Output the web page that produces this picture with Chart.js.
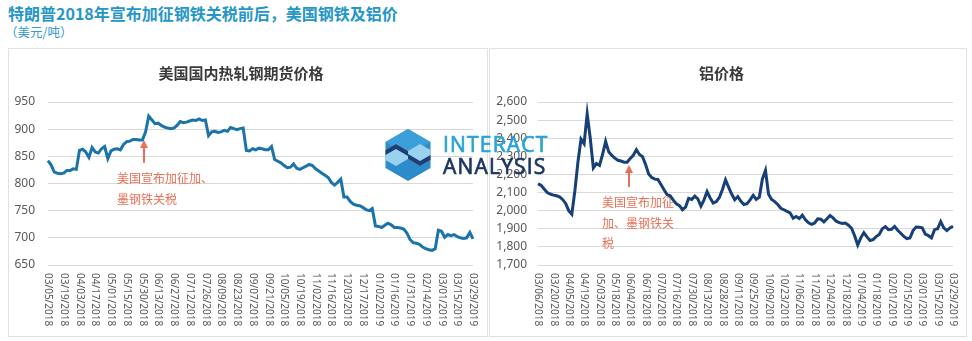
<!DOCTYPE html>
<html>
<head>
<meta charset="utf-8">
<script src="https://cdn.jsdelivr.net/npm/chart.js@4.4.1/dist/chart.umd.min.js"></script>
<style>
body{margin:0;background:#fff;width:972px;height:341px;position:relative;overflow:hidden;font-family:"Noto Sans CJK SC","Noto Sans",sans-serif}
#title{position:absolute;left:8px;top:3px;font-size:16px;font-weight:bold;color:#2596c8;line-height:20px;white-space:nowrap}
#unit{position:absolute;left:5px;top:23px;font-size:12.5px;color:#3399cc;line-height:18px}
.panel{position:absolute;top:48px;height:289px;border:1px solid #e2e2e2;box-sizing:border-box}
#p1{left:8px;width:480px}
#p2{left:489px;width:478px}
canvas{display:block}
#logo{position:absolute;left:384px;top:128px}
</style>
</head>
<body>
<div id="title">特朗普2018年宣布加征钢铁关税前后，美国钢铁及铝价</div>
<div id="unit">（美元/吨）</div>
<div class="panel" id="p1"><canvas id="steelChart" width="478" height="287"></canvas></div>
<div class="panel" id="p2"><canvas id="alumChart" width="476" height="287"></canvas></div>
<svg id="logo" width="170" height="56">
<polygon points="24,1 46.5,14 46.5,40 24,53 1.5,40 1.5,14" fill="#2c8ccb"/>
<polygon points="24,1 46.5,14 24,27 1.5,14" fill="#3d9fd9"/>
<polygon points="1.5,22 12,16 24,23 36,16 46.5,22 46.5,32 36,38 24,31 12,38 1.5,32" fill="#9ad2ee"/>
<polygon points="1.5,22 12,16 24,23 24,28 12,21 1.5,27" fill="#1d3f73"/>
<polygon points="46.5,32 36,38 24,31 24,26 36,33 46.5,27" fill="#1d3f73"/>
<text x="59" y="24" font-family="Open Sans" font-size="21" letter-spacing="1.2" fill="#2aa3d8" stroke="#2aa3d8" stroke-width="0.7">INTERACT</text>
<text x="59" y="46" font-family="Open Sans" font-size="21" letter-spacing="1.2" fill="#1c3561" stroke="#1c3561" stroke-width="0.7">ANALYSIS</text>
</svg>
<script>
const steelTicks=['03/05/2018','03/19/2018','04/03/2018','04/17/2018','05/01/2018','05/15/2018','05/30/2018','06/13/2018','06/27/2018','07/12/2018','07/26/2018','08/09/2018','08/23/2018','09/07/2018','09/21/2018','10/05/2018','10/19/2018','11/02/2018','11/16/2018','12/03/2018','12/17/2018','01/02/2019','01/16/2019','01/31/2019','02/14/2019','03/01/2019','03/15/2019','03/29/2019'];
const alumTicks=['03/06/2018','03/20/2018','04/05/2018','04/19/2018','05/03/2018','05/18/2018','06/04/2018','06/18/2018','07/02/2018','07/16/2018','07/30/2018','08/13/2018','08/28/2018','09/11/2018','09/25/2018','10/09/2018','10/23/2018','11/06/2018','11/20/2018','12/04/2018','12/18/2018','01/04/2019','01/18/2019','02/01/2019','02/15/2019','03/01/2019','03/15/2019','03/29/2019'];

// 美国国内热轧钢期货价格
const steelPrice=[
842,834,821,819,818,819,824,824,827,826,
861,863,858,848,866,858,856,864,868,846,
860,863,864,862,872,877,878,881,881,880,
880,895,924,917,910,911,907,904,902,901,
902,907,914,912,913,915,917,916,919,916,
917,888,895,896,894,895,898,896,903,901,
899,901,902,861,860,864,862,865,864,862,
862,868,844,841,838,833,829,830,836,828,
826,829,832,835,833,827,823,819,815,811,
802,797,802,808,775,775,767,762,760,759,
756,752,750,754,722,721,719,723,727,724,
719,719,718,716,709,697,691,690,688,683,
680,678,677,680,714,712,701,706,704,706,
702,700,699,700,710,698];

// 铝价格
const alumPrice=[
2148,2140,2120,2100,2092,2086,2082,2076,2062,2040,
2000,1980,2110,2270,2395,2370,2535,2400,2236,2260,
2250,2310,2383,2325,2305,2290,2278,2274,2268,2268,
2288,2306,2337,2310,2298,2255,2202,2183,2174,2172,
2145,2115,2088,2082,2058,2038,2028,2005,2020,2068,
2062,2080,2065,2025,2060,2105,2070,2042,2050,2073,
2117,2170,2130,2092,2060,2078,2052,2034,2038,2060,
2085,2062,2075,2175,2222,2090,2062,2050,2034,2013,
2005,1996,1988,1958,1968,1957,1975,1950,1933,1924,
1932,1955,1953,1938,1955,1973,1960,1942,1934,1929,
1932,1920,1903,1862,1810,1850,1878,1855,1835,1840,
1857,1868,1900,1912,1895,1897,1913,1892,1875,1858,
1846,1849,1890,1910,1908,1905,1870,1862,1850,1895,
1900,1940,1905,1890,1905,1914];

const pointsPerTick=5;

// rotated date labels, reading top to bottom
const xLabels=
{
id:'xLabels',
afterDraw(chart,args,o)
{
const ctx=chart.ctx;
const xs=chart.scales.x;
const top=chart.chartArea.bottom+8;
ctx.save();
ctx.font='10px "Noto Sans"';
ctx.fillStyle='#595959';
ctx.textAlign='left';
ctx.textBaseline='middle';
o.labels.forEach((t,k)=>
{
ctx.save();
ctx.translate(xs.getPixelForValue(k*o.step),top);
ctx.rotate(Math.PI/2);
ctx.fillText(t,0,0);
ctx.restore();
});
ctx.restore();
}
};

// red arrow + note
const note=
{
id:'note',
beforeDatasetsDraw(chart,args,o)
{
const ctx=chart.ctx;
const xs=chart.scales.x,ys=chart.scales.y;
const ax=xs.getPixelForValue(o.at);
const tip=ys.getPixelForValue(o.tip);
const base=ys.getPixelForValue(o.base);
ctx.save();
ctx.strokeStyle='#ea6f55';
ctx.fillStyle='#ea6f55';
ctx.lineWidth=2;
ctx.beginPath();ctx.moveTo(ax,base);ctx.lineTo(ax,tip+6);ctx.stroke();
ctx.beginPath();ctx.moveTo(ax,tip);ctx.lineTo(ax-4,tip+8);ctx.lineTo(ax+4,tip+8);ctx.closePath();ctx.fill();
ctx.font='12px "Noto Sans CJK SC"';
ctx.textBaseline='middle';
ctx.textAlign='left';
o.lines.forEach((t,k)=>ctx.fillText(t,xs.getPixelForValue(o.textAt),ys.getPixelForValue(o.textY[k])));
ctx.restore();
}
};

function makeChart(id,title,values,ticks,color,yMin,yMax,yStep,axisW,rightPad,labelPad,noteOpts,fmt)
{
return new Chart(document.getElementById(id),
{
type:'line',
data:{
labels:values.map((_,i)=>i),
datasets:[{
data:values,
borderColor:color,
borderWidth:3,
pointRadius:0,
tension:0,
fill:false
}]
},
options:{
responsive:false,
animation:false,
layout:{padding:{left:0,right:rightPad,top:0,bottom:0}},
plugins:{
legend:{display:false},
tooltip:{enabled:false},
title:{
display:true,
text:title,
color:'#3a3a3a',
font:{family:'"Noto Sans CJK SC"',size:15,weight:'bold'},
padding:{top:15,bottom:20}
},
xLabels:{labels:ticks,step:pointsPerTick},
note:noteOpts
},
scales:{
x:{
type:'category',
offset:false,
grid:{display:false},
border:{display:false},
ticks:{display:false},
afterFit:s=>{s.height=71;}
},
y:{
min:yMin,
max:yMax,
grid:{color:'#d9d9d9',lineWidth:1,drawTicks:false},
border:{display:false},
ticks:{
stepSize:yStep,
padding:labelPad,
color:'#595959',
font:{family:'"Noto Sans"',size:12},
callback:fmt
},
afterFit:s=>{s.width=axisW;}
}
}
},
plugins:[xLabels,note]
});
}

makeChart('steelChart','美国国内热轧钢期货价格',steelPrice,steelTicks,'#1a73aa',650,950,50,39,14,13,
{at:30.5,tip:880,base:838,textAt:21.9,textY:[810,771],lines:['美国宣布加征加、','墨钢铁关税']},
v=>v);

makeChart('alumChart','铝价格',alumPrice,alumTicks,'#173f78',1700,2600,100,48,13,11,
{at:29.6,tip:2252,base:2131,textAt:20.8,textY:[2048,1932,1821],lines:['美国宣布加征','加、墨钢铁关','税']},
v=>v.toLocaleString('en-US'));
</script>
</body>
</html>
